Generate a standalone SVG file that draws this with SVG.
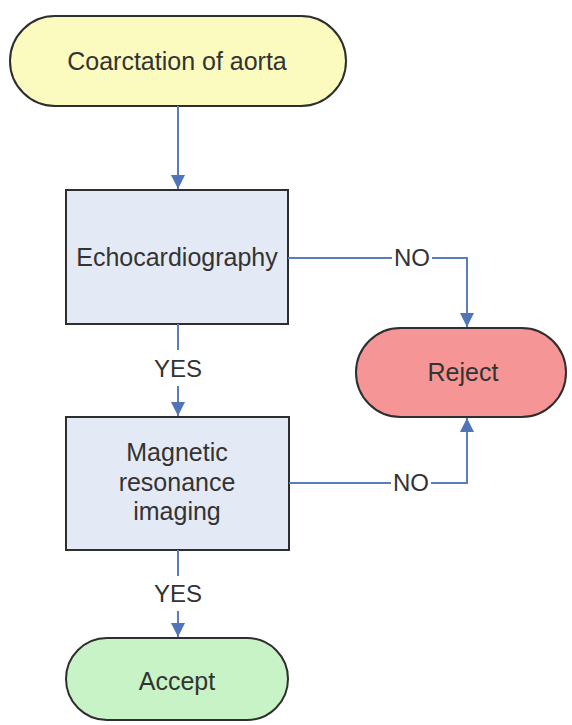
<svg xmlns="http://www.w3.org/2000/svg" width="572" height="725" viewBox="0 0 572 725">
  <defs>
    <marker id="arrow" viewBox="0 0 14 14" refX="14" refY="7" markerWidth="14" markerHeight="14" markerUnits="userSpaceOnUse" orient="auto">
      <path d="M0,0 L14,7 L0,14 Z" fill="#4f74b8"/>
    </marker>
    <style>
      .shape { stroke: #2e2e2e; stroke-width: 2; }
      .label { font-family: "Liberation Sans", Arial, sans-serif; font-size: 25px; text-anchor: middle; fill: #333; }
      .edge { fill: none; stroke: #5b7dbd; stroke-width: 2; }
      .edge-label { font-family: "Liberation Sans", Arial, sans-serif; font-size: 24px; text-anchor: middle; fill: #333; }
    </style>
  </defs>
  <rect width="572" height="725" fill="#ffffff"/>

  <g id="start">
    <rect class="shape" x="10" y="16" width="336" height="90" rx="45" ry="45" fill="#fbfbc0"/>
    <text class="label" x="177" y="70" fill="#3a3a26">Coarctation of aorta</text>
  </g>

  <g id="echo">
    <rect class="shape" x="66" y="190" width="222" height="134" fill="#e4eaf5"/>
    <text class="label" x="177" y="266">Echocardiography</text>
  </g>

  <g id="reject">
    <rect class="shape" x="356" y="328" width="210" height="89" rx="44.5" ry="44.5" fill="#f59595"/>
    <text class="label" x="463" y="381" fill="#3f2222">Reject</text>
  </g>

  <g id="mri">
    <rect class="shape" x="66" y="417" width="223" height="133" fill="#e4eaf5"/>
    <text class="label" x="177" y="461">Magnetic</text>
    <text class="label" x="177" y="491">resonance</text>
    <text class="label" x="177" y="520">imaging</text>
  </g>

  <g id="accept">
    <rect class="shape" x="66" y="638" width="222" height="82" rx="41" ry="41" fill="#c8f3c6"/>
    <text class="label" x="177" y="690" fill="#203a20">Accept</text>
  </g>

  <g id="connectors">
    <path class="edge" d="M178,106 L178,189" marker-end="url(#arrow)"/>
    <path class="edge" d="M288,258 L392,258 M432,258 L467,258 L467,327" marker-end="url(#arrow)"/>
    <path class="edge" d="M178,324 L178,350 M178,386 L178,416" marker-end="url(#arrow)"/>
    <path class="edge" d="M289,483 L391,483 M431,483 L467,483 L467,418" marker-end="url(#arrow)"/>
    <path class="edge" d="M178,550 L178,576 M178,611 L178,637" marker-end="url(#arrow)"/>
    <text class="edge-label" x="412" y="266">NO</text>
    <text class="edge-label" x="411" y="491">NO</text>
    <text class="edge-label" x="178" y="377">YES</text>
    <text class="edge-label" x="178" y="602">YES</text>
  </g>
</svg>
